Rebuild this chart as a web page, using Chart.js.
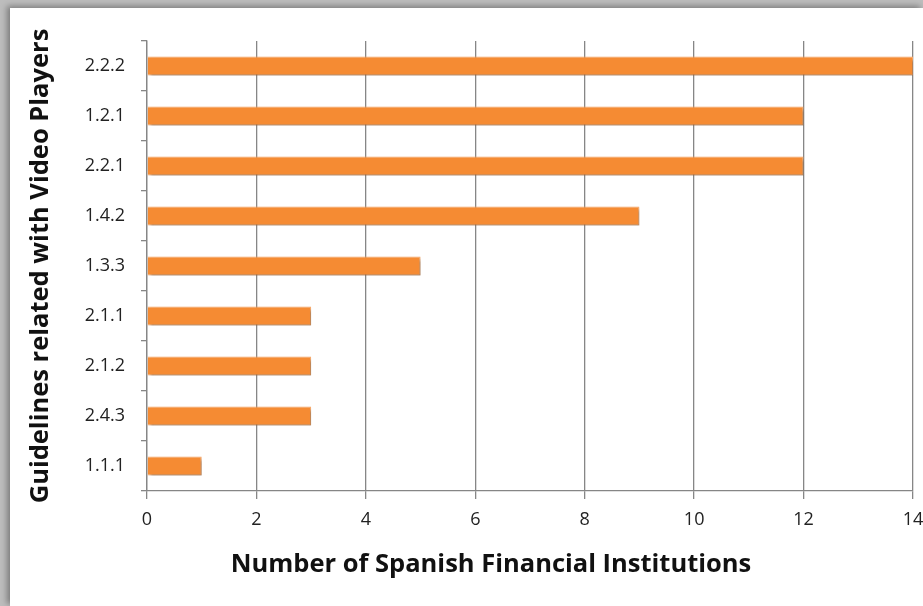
<!DOCTYPE html>
<html>
<head>
<meta charset="utf-8">
<script src="https://cdn.jsdelivr.net/npm/chart.js@4.4.1/dist/chart.umd.min.js"></script>
<style>
html,body{margin:0;padding:0;width:923px;height:606px;overflow:hidden;background:#bdbdbd;}
#frame{position:absolute;left:10px;top:8px;width:913px;height:598px;background:#fff;box-shadow:-3px -2px 6px rgba(0,0,0,0.35);}
#wrap{position:absolute;left:0;top:0;width:923px;height:606px;}
</style>
</head>
<body>
<div id="frame"></div>
<div id="wrap"><canvas id="c" width="923" height="606"></canvas></div>
<script>
const categories = ["2.2.2","1.2.1","2.2.1","1.4.2","1.3.3","2.1.1","2.1.2","2.4.3","1.1.1"];
const institutions = [14,12,12,9,5,3,3,3,1];
const xTicks = [0,2,4,6,8,10,12,14];
const xTitle = 'Number of Spanish Financial Institutions';
const yTitle = 'Guidelines related with Video Players';

const barShadow = {
  id:'barShadow',
  beforeDatasetDraw(chart){const c=chart.ctx;c.save();c.shadowColor='rgba(0,0,0,0.35)';c.shadowOffsetX=2;c.shadowOffsetY=2;c.shadowBlur=3;},
  afterDatasetDraw(chart){chart.ctx.restore();}
};
const xTitlePlugin = {
  id:'xTitlePlugin',
  afterDraw(chart,args,opts){
    const c=chart.ctx;c.save();
    c.font='bold 25.5px "Open Sans"';c.fillStyle='#111';c.textAlign='center';c.textBaseline='middle';
    c.fillText(opts.text,opts.x,opts.y);c.restore();
  }
};

new Chart(document.getElementById('c'),{
  type:'bar',
  data:{labels:categories,datasets:[{data:institutions,backgroundColor:'#F58B33',borderColor:'#F9A868',borderWidth:1,categoryPercentage:1,barPercentage:0.38}]},
  options:{
    indexAxis:'y',responsive:false,animation:false,
    layout:{padding:{left:20,top:41,right:0,bottom:21.7}},
    plugins:{legend:{display:false},tooltip:{enabled:false},xTitlePlugin:{text:xTitle,x:491,y:565}},
    scales:{
      x:{min:0,max:14,
        afterBuildTicks(s){s.ticks=xTicks.map(v=>({value:v}));},
        afterFit(s){s.height=93.3;s.paddingRight=10;},
        grid:{color:'#868686',lineWidth:1.3,tickLength:8,drawTicks:true},
        border:{color:'#868686',width:1.3},
        ticks:{color:'#222',font:{family:'Open Sans',size:18},padding:10},
        title:{display:false}
      },
      y:{
        afterFit(s){s.width=127;},
        grid:{drawOnChartArea:false,drawTicks:true,tickLength:6,offset:true,color:'#868686',lineWidth:1.3},
        border:{color:'#868686',width:1.3},
        ticks:{color:'#222',font:{family:'Open Sans',size:18},padding:16},
        title:{display:true,text:yTitle,color:'#111',font:{family:'Open Sans',size:25.5,weight:'bold'},padding:{top:5,bottom:0}}
      }
    }
  },
  plugins:[barShadow,xTitlePlugin]
});
</script>
</body>
</html>
